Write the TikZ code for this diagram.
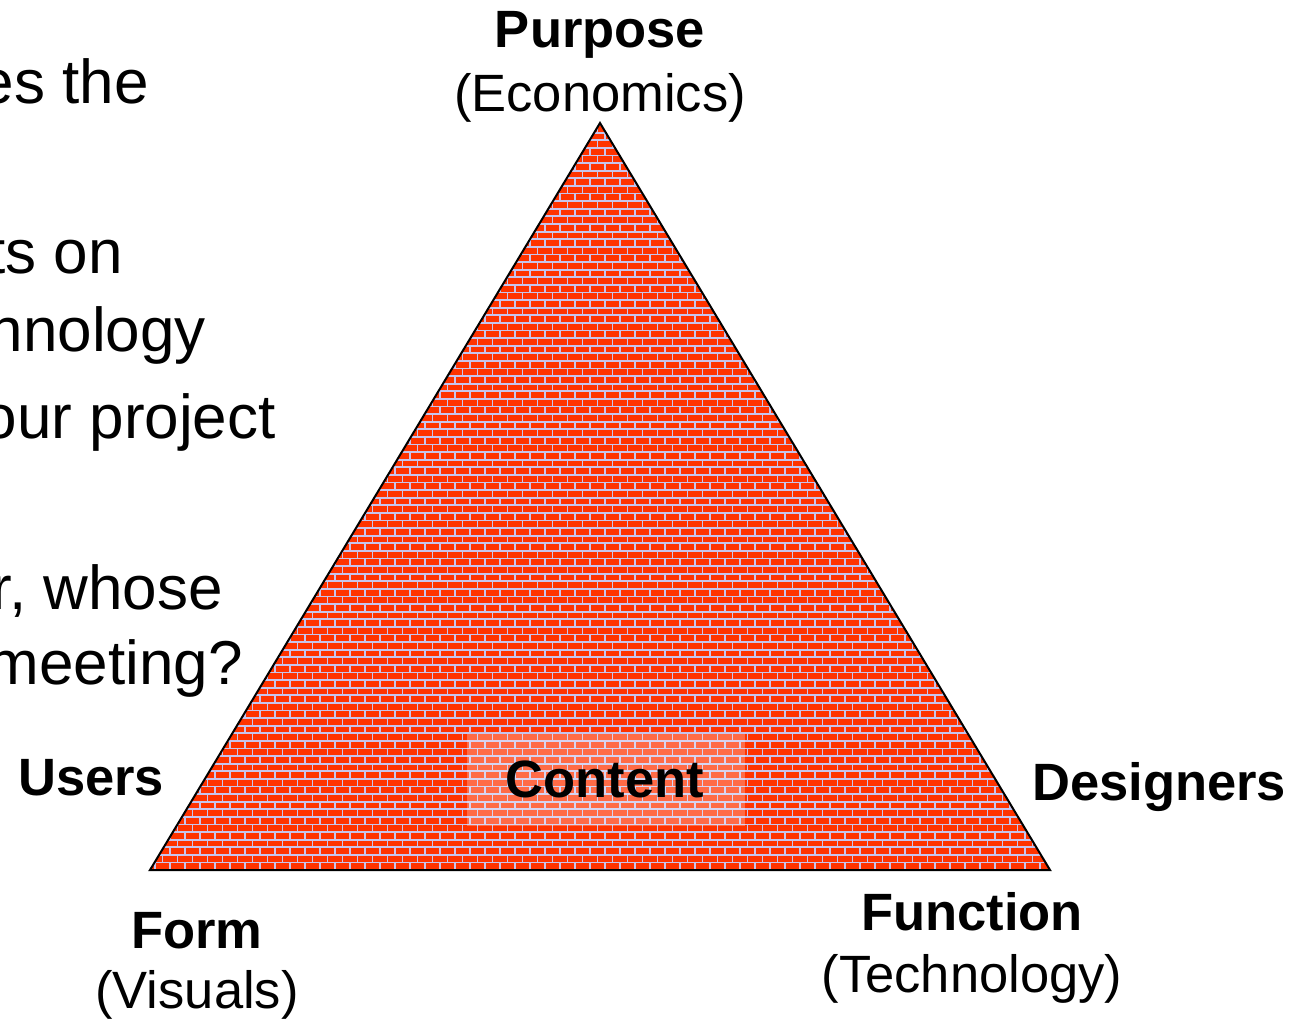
\documentclass[tikz,border=0pt]{standalone}
\usepackage{fontspec}
\setmainfont{Liberation Sans}
\definecolor{brick}{HTML}{FF3300}
\definecolor{mortar}{HTML}{C8C4EC}
\tikzset{
  lbl/.style={inner sep=0pt, anchor=base, font=\fontsize{52.5}{60}\selectfont\bfseries},
  sub/.style={inner sep=0pt, anchor=base, font=\fontsize{52.5}{60}\selectfont},
  body/.style={inner sep=0pt, anchor=base east, font=\fontsize{62}{70}\selectfont},
}
\begin{document}
\begin{tikzpicture}[x=1pt,y=-1pt]
\useasboundingbox (0,0) rectangle (1289,1019);
\clip (0,0) rectangle (1289,1019);
\coordinate (apex) at (600,123);
\coordinate (bl) at (150,870);
\coordinate (br) at (1050,870);
% left body text (cut at the left edge, as in the reference)
\node[body] (t1) at (149,104) {es the};
\node[body] (t2) at (123,273) {ts on};
\node[body] (t3) at (206,351) {nnology};
\node[body] (t4) at (276,438) {our project};
\node[body] (t5) at (223,609) {r, whose};
\node[body] (t6) at (243,684) {meeting?};
% brick triangle
\fill[brick] (apex) -- (bl) -- (br) -- cycle;
\begin{scope}
  \clip (apex) -- (bl) -- (br) -- cycle;
  \draw[mortar, line width=1.8] \foreach \r in {0,...,99}{ (140,{870-\r*7.6}) -- (1060,{870-\r*7.6}) };
  \draw[mortar, line width=1.8] \foreach \r in {0,...,99}{ \foreach \c in {0,...,62}{ ({140+\c*15+mod(\r,2)*7.5},{870-\r*7.6}) -- ++(0,-7.6) } };
  \fill[white, opacity=0.28] (467,734) rectangle (745,826);
\end{scope}
\draw[black, line width=2, line join=miter] (apex) -- (bl) -- (br) -- cycle;
% labels
\node[lbl] (purpose) at (600,48) {Purpose};
\node[sub] (econ) at (600,112) {(Economics)};
\node[lbl, anchor=base west] (users) at (18,795) {Users};
\node[lbl] (content) at (605,797) {Content};
\node[lbl, anchor=base west] (designers) at (1032,800) {Designers};
\node[lbl] (form) at (197,948) {Form};
\node[sub] (visuals) at (197,1008) {(Visuals)};
\node[lbl] (function) at (972,930) {Function};
\node[sub] (tech) at (972,992) {(Technology)};
\end{tikzpicture}
\end{document}
